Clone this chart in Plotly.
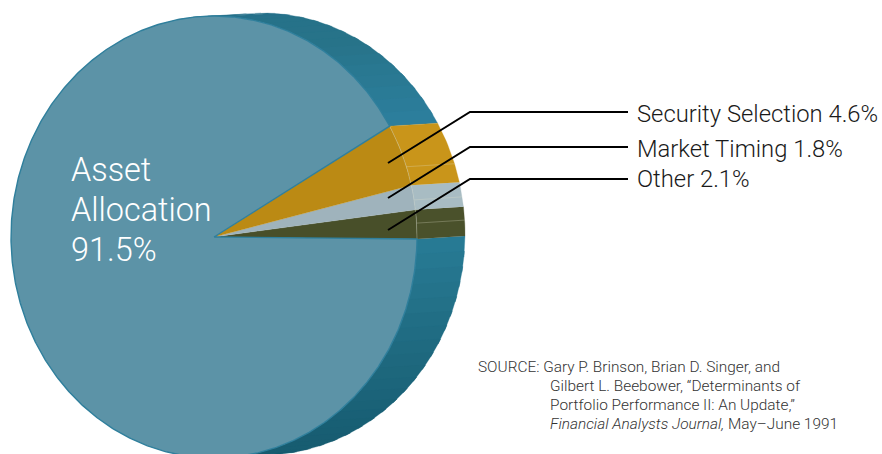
import math
import plotly.graph_objects as go

# Portfolio return variation by source, percent
segments = ["Other", "Market Timing", "Security Selection", "Asset Allocation"]
shares = [2.1, 1.8, 4.6, 91.5]
face_colors = ["#484f29", "#9fb3bc", "#bb8a14", "#5c93a7"]
rim_colors = ["#4a512b", "#a8bcc3", "#c9951a", None]

leader_labels = ["Security Selection 4.6%", "Market Timing 1.8%", "Other 2.1%"]
pie_title = ["Asset", "Allocation", "91.5%"]
source_lines = [
    "SOURCE: Gary P. Brinson, Brian D. Singer, and",
    "Gilbert L. Beebower, “Determinants of",
    "Portfolio Performance II: An Update,”",
    "<i>Financial Analysts Journal,</i> May–June 1991",
]

# Pie geometry on a pixel-like plane
CX, CY, RX, RY = 214, 237, 203, 221
DX, DY = 48, -3
START = -0.5
FONT = "Roboto"

# Shading of the teal edge, from top to bottom
rim_stops = [(100, "#25708a"), (60, "#277389"), (30, "#2c7f9d"), (-0.5, "#287b95"),
             (-30, "#1f6a80"), (-60, "#185e73"), (-100, "#155a6d")]


def point(deg, extruded=False):
    a = math.radians(deg)
    x, y = CX + RX * math.cos(a), CY - RY * math.sin(a)
    return (x + DX, y + DY) if extruded else (x, y)


def arc(a, b, extruded=False, step=1.0):
    n = max(2, int(abs(b - a) / step) + 1)
    return [point(a + (b - a) * i / (n - 1), extruded) for i in range(n)]


def rim_shade(deg):
    for (a0, c0), (a1, c1) in zip(rim_stops, rim_stops[1:]):
        if a1 <= deg <= a0:
            t = (a0 - deg) / (a0 - a1)
            rgb0 = [int(c0[i:i + 2], 16) for i in (1, 3, 5)]
            rgb1 = [int(c1[i:i + 2], 16) for i in (1, 3, 5)]
            return "rgb(%d,%d,%d)" % tuple(round(p + (q - p) * t) for p, q in zip(rgb0, rgb1))
    return rim_stops[-1][1]


def polygon(points, fill, line=None, width=0.3):
    return go.Scatter(
        x=[p[0] for p in points], y=[p[1] for p in points], mode="lines",
        fill="toself", fillcolor=fill, hoverinfo="skip",
        line=dict(color=line or fill, width=width),
    )


def stroke(points, color, width):
    return go.Scatter(
        x=[p[0] if p else None for p in points], y=[p[1] if p else None for p in points],
        mode="lines", hoverinfo="skip", line=dict(color=color, width=width),
    )


# Slice boundaries in degrees, counter-clockwise from three o'clock
edges = [START]
for s in shares:
    edges.append(edges[-1] + s * 3.6)
top_of_small = edges[3]

fig = go.Figure()

# Teal edge, built as narrow bands; each one laps under the next so no gaps show
BAND = 4.0
LAP = 1.5
for lo, hi, lap in [(top_of_small, 100.0, -LAP), (-100.0, START, -LAP)]:
    count = round((hi - lo) / BAND)
    for i in reversed(range(count)):
        a = lo + (hi - lo) * i / count
        b = lo + (hi - lo) * (i + 1) / count
        a_lapped = max(lo, a + lap)
        fig.add_trace(polygon(arc(a_lapped, b) + arc(b, a_lapped, True), rim_shade((a + b) / 2)))

# Edges of the three small slices, each split by a faint seam
for i in range(3):
    a, b = edges[i], edges[i + 1]
    fig.add_trace(polygon(arc(a, b) + arc(b, a, True), rim_colors[i]))
split = []
for i, c in enumerate((edges[0] + 4.1, edges[1] + 2.6, edges[2] + 5.0)):
    split += [point(c), point(c, True), None]
fig.add_trace(stroke(split, "rgba(225,225,205,0.4)", 0.7))

# Front faces of the small slices
for i in range(3):
    fig.add_trace(polygon([(CX, CY)] + arc(edges[i], edges[i + 1]), face_colors[i]))
fig.add_trace(stroke(arc(edges[0], edges[3]), "rgba(215,220,205,0.5)", 0.7))

# Front face of the large slice with its outline
fig.add_trace(polygon([(CX, CY)] + arc(edges[3], edges[4], step=0.5) + [(CX, CY)],
                      face_colors[3], line="#2f7f9c", width=1.4))

# Leader lines running from the slices to their labels
leader_y = [112, 147, 179]
slice_y = [163, 198, 230]
for y_end, y_start in zip(leader_y, slice_y):
    fig.add_trace(stroke([(388, y_start), (470, y_end), (628, y_end)], "#000000", 2))

annotations = []


def label(x, y, text, size, color):
    annotations.append(dict(
        x=x, y=y, text=text, xref="x", yref="y", xanchor="left", yanchor="middle",
        showarrow=False, align="left", borderpad=0,
        font=dict(family=FONT, size=size, color=color, weight=300),
    ))


for text, y in zip(pie_title, (170, 210, 250)):
    label(70, y, text, 32.4, "#ffffff")
for text, y in zip(leader_labels, (114, 148.5, 178.5)):
    label(635.5, y, text, 23.8, "#1a1a1a")
for text, x, y in zip(source_lines, (477, 549, 549, 549), (367, 386, 405, 424)):
    label(x, y, text, 15.4, "#333333")

fig.update_layout(
    width=882, height=454, margin=dict(l=0, r=0, t=0, b=0),
    paper_bgcolor="#ffffff", plot_bgcolor="#ffffff", showlegend=False,
    xaxis=dict(range=[0, 882], visible=False, fixedrange=True),
    yaxis=dict(range=[454, 0], visible=False, fixedrange=True),
    annotations=annotations,
)
fig.write_html("out.html", config={"displayModeBar": False})
